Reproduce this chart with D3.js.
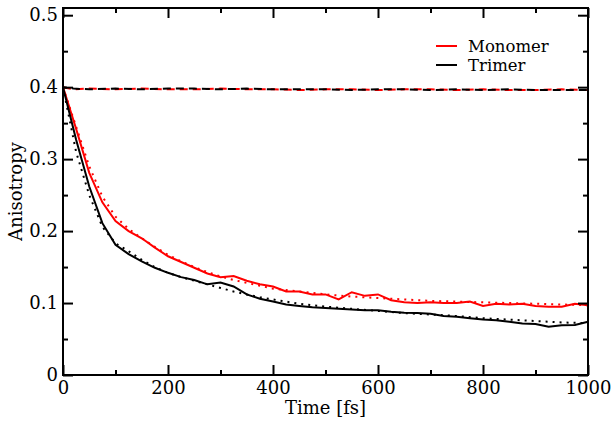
<!DOCTYPE html>
<html><head><meta charset="utf-8">
<script src="https://cdn.jsdelivr.net/npm/d3@7"></script>
<style>body{margin:0;background:#fff}svg{display:block}</style>
</head><body><svg id="c" width="616" height="427"></svg>
<script>
// Data (time in fs, anisotropy)
const monomerT = [0,25,50,75,100,125,150,175,200,225,250,275,300,325,350,375,400,425,450,475,500,525,550,575,600,625,650,675,700,725,750,775,800,825,850,875,900,925,950,975,1000];
const monomerV = [0.400,0.342,0.281,0.240,0.214,0.200,0.190,0.177,0.165,0.157,0.149,0.141,0.136,0.1375,0.131,0.126,0.123,0.116,0.116,0.112,0.112,0.105,0.115,0.110,0.112,0.104,0.101,0.100,0.101,0.100,0.100,0.102,0.096,0.099,0.098,0.099,0.096,0.095,0.095,0.099,0.097];
const trimerT = monomerT;
const trimerV = [0.400,0.327,0.262,0.211,0.181,0.168,0.158,0.149,0.142,0.136,0.132,0.126,0.1285,0.123,0.112,0.106,0.102,0.098,0.096,0.094,0.093,0.092,0.091,0.090,0.090,0.088,0.0865,0.086,0.085,0.082,0.081,0.079,0.077,0.076,0.074,0.0715,0.071,0.067,0.069,0.0696,0.074];
const fitT = [0,25,50,75,100,125,150,175,200,225,250,275,300,325,350,375,400,450,500,550,600,650,700,750,800,850,900,950,1000];
const monomerFitV = [0.400,0.345,0.290,0.248,0.220,0.203,0.190,0.178,0.167,0.158,0.150,0.143,0.137,0.132,0.128,0.124,0.120,0.116,0.112,0.109,0.107,0.105,0.103,0.102,0.101,0.100,0.099,0.098,0.097];
const trimerFitV = [0.400,0.310,0.250,0.206,0.183,0.172,0.160,0.150,0.142,0.136,0.131,0.126,0.121,0.116,0.112,0.108,0.105,0.099,0.095,0.092,0.089,0.086,0.084,0.082,0.079,0.077,0.075,0.073,0.072];
const dashT = [0,20,50,100,150,200,250,300,350,400,450,500,550,600,650,700,750,800,850,900,950,1000];
const monomerDashV = [0.400,0.397,0.398,0.397,0.398,0.397,0.397,0.398,0.397,0.397,0.396,0.397,0.397,0.396,0.397,0.397,0.396,0.397,0.396,0.396,0.397,0.396];
const trimerDashV  = [0.400,0.398,0.397,0.398,0.397,0.398,0.398,0.397,0.398,0.397,0.397,0.397,0.396,0.397,0.397,0.396,0.397,0.396,0.397,0.396,0.396,0.396];
const xTicks = [0,200,400,600,800,1000];
const xMinor = [100,300,500,700,900];
const yTicks = [0,0.1,0.2,0.3,0.4,0.5];
const yMinor = [0.05,0.15,0.25,0.35,0.45];
const yTickLabels = ["0","0.1","0.2","0.3","0.4","0.5"];
const legendNames = ["Monomer","Trimer"];
const colors = ["#ff0000","#000000"];

const FONT = "DejaVu Serif";
const L=63,R=588,T=8,B=375;
const svg=d3.select("#c");
const x=d3.scaleLinear().domain([0,1000]).range([L,R]);
const y=d3.scaleLinear().domain([0,0.51]).range([B,T]);
const line=d3.line().x(d=>x(d[0])).y(d=>y(d[1]));
const zip=(a,b)=>a.map((t,i)=>[t,b[i]]);

const g=svg.append("g");
g.append("path").attr("d",line(zip(dashT,monomerDashV))).attr("fill","none").attr("stroke",colors[0]).attr("stroke-width",2).attr("stroke-dasharray","8,5");
g.append("path").attr("d",line(zip(dashT,trimerDashV))).attr("fill","none").attr("stroke",colors[1]).attr("stroke-width",2).attr("stroke-dasharray","8,5").attr("stroke-dashoffset",4);
g.append("path").attr("d",line(zip(fitT,monomerFitV))).attr("fill","none").attr("stroke",colors[0]).attr("stroke-width",2).attr("stroke-dasharray","2,5");
g.append("path").attr("d",line(zip(fitT,trimerFitV))).attr("fill","none").attr("stroke",colors[1]).attr("stroke-width",2).attr("stroke-dasharray","2,5");
g.append("path").attr("d",line(zip(monomerT,monomerV))).attr("fill","none").attr("stroke",colors[0]).attr("stroke-width",2);
g.append("path").attr("d",line(zip(trimerT,trimerV))).attr("fill","none").attr("stroke",colors[1]).attr("stroke-width",2);

function styleAx(sel){sel.select(".domain").remove();sel.selectAll(".tick line").attr("stroke","#000").attr("stroke-width",2);}
function styleTxt(sel){sel.attr("font-family",null).selectAll("text").attr("font-family",FONT).attr("font-size",18).attr("fill","#000");}
svg.append("g").attr("transform",`translate(0,${B})`).call(d3.axisBottom(x).tickValues(xTicks).tickSize(-10).tickFormat(d3.format("d")).tickPadding(6)).call(styleAx).call(styleTxt);
svg.append("g").attr("transform",`translate(0,${B})`).call(d3.axisBottom(x).tickValues(xMinor).tickSize(-5).tickFormat("")).call(styleAx);
svg.append("g").attr("transform",`translate(0,${T})`).call(d3.axisTop(x).tickValues(xTicks).tickSize(-10).tickFormat("")).call(styleAx);
svg.append("g").attr("transform",`translate(0,${T})`).call(d3.axisTop(x).tickValues(xMinor).tickSize(-5).tickFormat("")).call(styleAx);
svg.append("g").attr("transform",`translate(${L},0)`).call(d3.axisLeft(y).tickValues(yTicks).tickSize(-10).tickFormat((d,i)=>yTickLabels[i]).tickPadding(5)).call(styleAx).call(styleTxt);
svg.append("g").attr("transform",`translate(${L},0)`).call(d3.axisLeft(y).tickValues(yMinor).tickSize(-5).tickFormat("")).call(styleAx);
svg.append("g").attr("transform",`translate(${R},0)`).call(d3.axisRight(y).tickValues(yTicks).tickSize(-10).tickFormat("")).call(styleAx);
svg.append("g").attr("transform",`translate(${R},0)`).call(d3.axisRight(y).tickValues(yMinor).tickSize(-5).tickFormat("")).call(styleAx);

svg.append("rect").attr("x",L).attr("y",T).attr("width",R-L).attr("height",B-T).attr("fill","none").attr("stroke","#000").attr("stroke-width",2);

svg.append("text").attr("x",(L+R)/2).attr("y",414).attr("text-anchor","middle").attr("font-family",FONT).attr("font-size",18).text("Time [fs]");
svg.append("text").attr("transform",`translate(22,${(T+B)/2}) rotate(-90)`).attr("text-anchor","middle").attr("font-family",FONT).attr("font-size",18).text("Anisotropy");

const leg=svg.append("g");
legendNames.forEach((n,i)=>{
  const yy=46+i*19;
  leg.append("line").attr("x1",436).attr("x2",457).attr("y1",yy).attr("y2",yy).attr("stroke",colors[i]).attr("stroke-width",2);
  leg.append("text").attr("x",468).attr("y",yy+6).attr("font-family",FONT).attr("font-size",16.5).text(n);
});
</script></body></html>
